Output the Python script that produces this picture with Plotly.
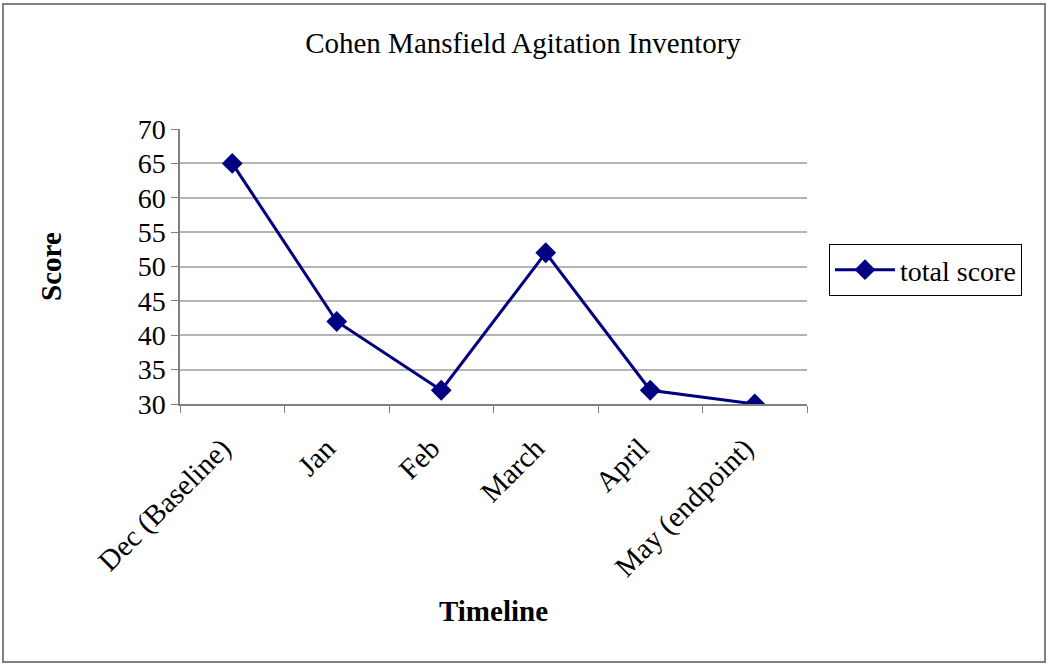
import plotly.graph_objects as go

categories = ["Dec (Baseline)", "Jan", "Feb", "March", "April", "May (endpoint)"]
total_score = [65, 42, 32, 52, 32, 30]
y_ticks = [30, 35, 40, 45, 50, 55, 60, 65, 70]

W, H = 1050, 668
L, R, T, B = 180, 243, 129, 264
pw, ph = W - L - R, H - T - B

def px_x(x):
    return (x - L) / pw

def px_y(y):
    return (H - B - y) / ph

FONT = "Liberation Serif, Times New Roman, serif"
NAVY = "#000080"
GRAY = "#808080"

fig = go.Figure()
fig.add_trace(go.Scatter(
    x=categories, y=total_score, mode="lines+markers", name="total score",
    line=dict(color=NAVY, width=3),
    marker=dict(symbol="diamond", size=16, color=NAVY),
))

fig.update_layout(
    width=W, height=H,
    margin=dict(l=L, r=R, t=T, b=B, autoexpand=False),
    paper_bgcolor="white", plot_bgcolor="white",
    font=dict(family=FONT, color="black", size=28),
    title=dict(text="Cohen Mansfield Agitation Inventory", x=523 / W, xref="container",
               xanchor="center", y=1 - 43 / H, yanchor="middle",
               font=dict(size=29, family=FONT)),
    showlegend=True,
    legend=dict(x=px_x(829), y=px_y(244), xanchor="left", yanchor="top",
                bordercolor="black", borderwidth=1, bgcolor="white",
                font=dict(size=28, family=FONT), itemwidth=60),
    xaxis=dict(type="category", showgrid=False, showline=True, linecolor=GRAY,
               linewidth=1.5, ticks="outside", tickson="boundaries", ticklen=7,
               tickcolor=GRAY, tickangle=-45, tickfont=dict(size=29),
               ticklabelstandoff=14, ticklabelshift=-10,
               title=dict(text="<b>Timeline</b>", font=dict(size=29), standoff=18),
               range=[-0.5, len(categories) - 0.5], zeroline=False),
    yaxis=dict(range=[y_ticks[0], y_ticks[-1]], tickvals=y_ticks, showgrid=False,
               showline=True, linecolor=GRAY, linewidth=1.5, ticks="outside",
               ticklen=7, tickcolor=GRAY, tickfont=dict(size=28), zeroline=False,
               minor=dict(tickmode="array", tickvals=y_ticks[1:-1], showgrid=True,
                          gridcolor="#b4b4b4", gridwidth=1.5, ticks=""),
               title=dict(text="<b>Score</b>", font=dict(size=29), standoff=68)),
)

fig.add_shape(type="rect", xref="paper", yref="paper",
              x0=px_x(3), x1=px_x(1045), y0=px_y(662), y1=px_y(4),
              line=dict(color=GRAY, width=2), fillcolor="rgba(0,0,0,0)", layer="below")

fig.write_html("out.html", config={"displayModeBar": False},
               post_script="document.body.style.margin='0';")
